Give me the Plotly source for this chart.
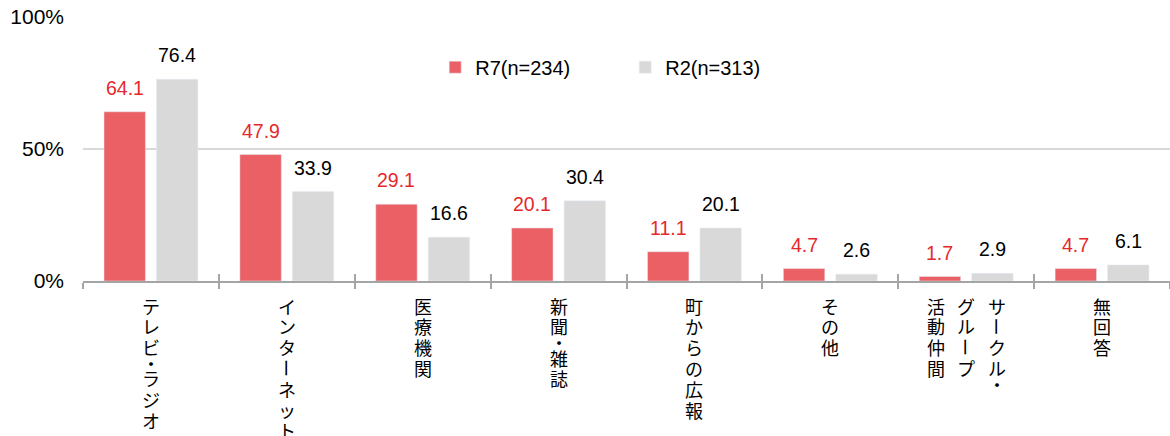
import plotly.graph_objects as go

# Survey: information sources (multiple answers), percent of respondents
categories = ["テレビ・ラジオ", "インターネット", "医療機関", "新聞・雑誌",
              "町からの広報", "その他", "サークル・グループ活動仲間", "無回答"]
# vertical label columns, right-to-left, separated by "\n"
label_columns = ["テレビ・ラジオ", "インターネット", "医療機関", "新聞・雑誌",
                 "町からの広報", "その他", "サークル・\nグループ\n活動仲間", "無回答"]
r7_values = [64.1, 47.9, 29.1, 20.1, 11.1, 4.7, 1.7, 4.7]
r2_values = [76.4, 33.9, 16.6, 30.4, 20.1, 2.6, 2.9, 6.1]
series_names = ["R7(n=234)", "R2(n=313)"]
y_ticks = [0, 50, 100]
y_tick_text = [f"{v}%" for v in y_ticks]

RED = "#EA6064"
GRAY = "#D9D9D9"
AXIS = "#A5A5A5"
RED_TEXT = "#E5282C"
JP_FONT = "Noto Sans CJK JP"
NUM_FONT = "Liberation Sans, Noto Sans CJK JP"

W, H = 1170, 436
M_L, M_R, M_T, M_B = 83, 0, 17, 155
BARGAP, BARGROUPGAP = 0.228, 0.21

fig = go.Figure()
fig.add_bar(x=categories, y=r7_values, name=series_names[0], marker_color=RED)
fig.add_bar(x=categories, y=r2_values, name=series_names[1], marker_color=GRAY)
# carrier trace for the overlaid axis that draws the upward half of the boundary ticks
fig.add_scatter(x=categories, y=[None] * len(categories), xaxis="x2", yaxis="y",
                mode="markers", showlegend=False, hoverinfo="skip")

plot_w = W - M_L - M_R
cat_w = plot_w / len(categories)
slot = cat_w * (1 - BARGAP) / 2
annotations = []

# value labels above each bar
for cat, a, b in zip(categories, r7_values, r2_values):
    for val, shift, col in ((a, -slot / 2, RED_TEXT), (b, slot / 2, "#000000")):
        annotations.append(dict(
            x=cat, y=val, xref="x", yref="y", text=f"{val:.1f}",
            showarrow=False, xshift=shift, yanchor="bottom", yshift=11,
            font=dict(family=NUM_FONT, size=19.5, color=col)))

# vertical (tategaki) category labels, one character per annotation;
# the long-vowel mark is turned upright, the middle dot takes half a step
PITCH = 20.8
COL_GAP = 30.5
TOP = 24.5
for cat, lab in zip(categories, label_columns):
    cols = lab.split("\n")
    n = len(cols)
    for ci, col in enumerate(cols):
        xs = ((n - 1) / 2 - ci) * COL_GAP
        pos = 0.0
        for ch in col:
            step = 0.5 if ch == "・" else 1.0
            centre = pos + (step - 1) / 2 if ch == "・" else pos
            annotations.append(dict(
                x=cat, y=0, xref="x", yref="paper", text=ch, showarrow=False,
                xshift=xs, yanchor="middle", yshift=-(TOP + centre * PITCH),
                textangle=90 if ch == "ー" else 0,
                font=dict(family=JP_FONT, size=18, color="#000000")))
            pos += step

fig.update_layout(
    width=W, height=H,
    margin=dict(l=M_L, r=M_R, t=M_T, b=M_B, pad=0),
    paper_bgcolor="white", plot_bgcolor="white",
    barmode="group", bargap=BARGAP, bargroupgap=BARGROUPGAP,
    font=dict(family=JP_FONT, size=18, color="#000000"),
    showlegend=True,
    legend=dict(orientation="h", x=0.324, y=0.81, xanchor="left", yanchor="middle",
                bgcolor="rgba(0,0,0,0)", entrywidth=145, entrywidthmode="pixels",
                font=dict(family=NUM_FONT, size=20, color="#000000"),
                itemclick=False, itemdoubleclick=False),
    annotations=annotations,
    xaxis=dict(showticklabels=False, showline=True, linecolor=AXIS, linewidth=2,
               ticks="outside", tickson="boundaries", ticklen=6, tickcolor=AXIS,
               tickwidth=2, showgrid=False, fixedrange=True),
    xaxis2=dict(overlaying="x", matches="x", anchor="y", side="bottom",
                showticklabels=False, showline=False, showgrid=False,
                ticks="inside", tickson="boundaries", ticklen=7,
                tickcolor=AXIS, tickwidth=2, fixedrange=True),
)
fig.update_yaxes(
    range=[0, 100], tickvals=y_ticks, ticktext=y_tick_text, showgrid=True,
    gridcolor=GRAY, gridwidth=2, zeroline=False, showline=False,
    ticks="", ticklabelstandoff=18,
    tickfont=dict(family=NUM_FONT, size=21, color="#000000"),
    fixedrange=True)

fig.write_html("out.html", config={"displayModeBar": False})
